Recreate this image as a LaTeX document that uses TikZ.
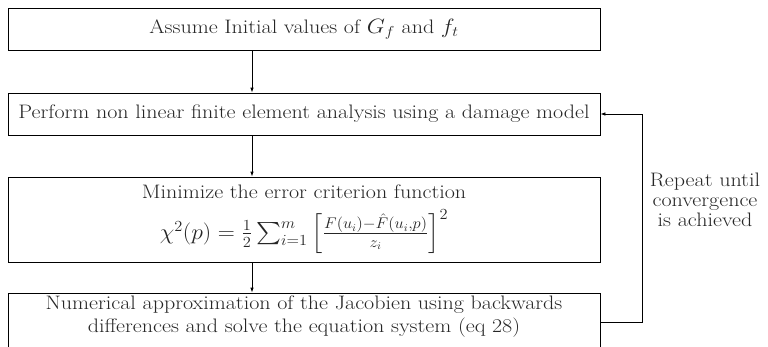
\documentclass[tikz,border=0pt]{standalone}
\usepackage{amsmath}
\usetikzlibrary{arrows.meta,fit}
\newcommand\sx[1]{\scalebox{1.13}[1]{#1}}
\begin{document}
\begin{tikzpicture}[x=1pt,y=-1pt,
  every node/.style={font=\fontsize{19.5}{20}\selectfont, text=black!85},
  box/.style={draw, line width=0.8pt, minimum width=592pt, inner sep=0pt, align=center},
  conn/.style={line width=0.8pt, -{Latex[length=5pt,width=3.5pt]}}]
\useasboundingbox (0,0) rectangle (768,346);
\node (b1) [box, minimum height=42pt] at (304,29) {\sx{Assume Initial values of $G_f$ and $f_t$}};
\node (b2) [box, minimum height=42pt] at (304,114) {\sx{Perform non linear finite element analysis using a damage model}};
\node (b3) [box, minimum height=85pt] at (304,219.5) {\sx{Minimize the error criterion function}\\[10pt]
  \scalebox{1.14}[1.07]{$\chi^2(p)=\frac{1}{2}\sum_{i=1}^{m}\left[\frac{F(u_i)-\hat{F}(u_i,p)}{z_i}\right]^2$}};
\node (t4) [align=center, inner sep=0pt] at (304,317) {\sx{Numerical approximation of the Jacobien using backwards}\\[3pt]\sx{differences and solve the equation system (eq 28)}};
\node (b4) [draw, line width=0.8pt, fit={(8,293) (600,370)}, inner sep=0pt] {};
\node (lab) [align=center, inner sep=0pt] at (705,200) {\sx{Repeat until}\\\sx{convergence}\\\sx{is achieved}};
\draw[conn] ([xshift=-52pt]b1.south) -- ([xshift=-52pt]b2.north);
\draw[conn] ([xshift=-52pt]b2.south) -- ([xshift=-52pt]b3.north);
\draw[conn] ([xshift=-52pt]b3.south) -- ([xshift=-52pt]b4.north);
\draw[conn] ([yshift=-30pt]b4.north east) -- ++(42,0) |- (b2.east);
\end{tikzpicture}
\end{document}
